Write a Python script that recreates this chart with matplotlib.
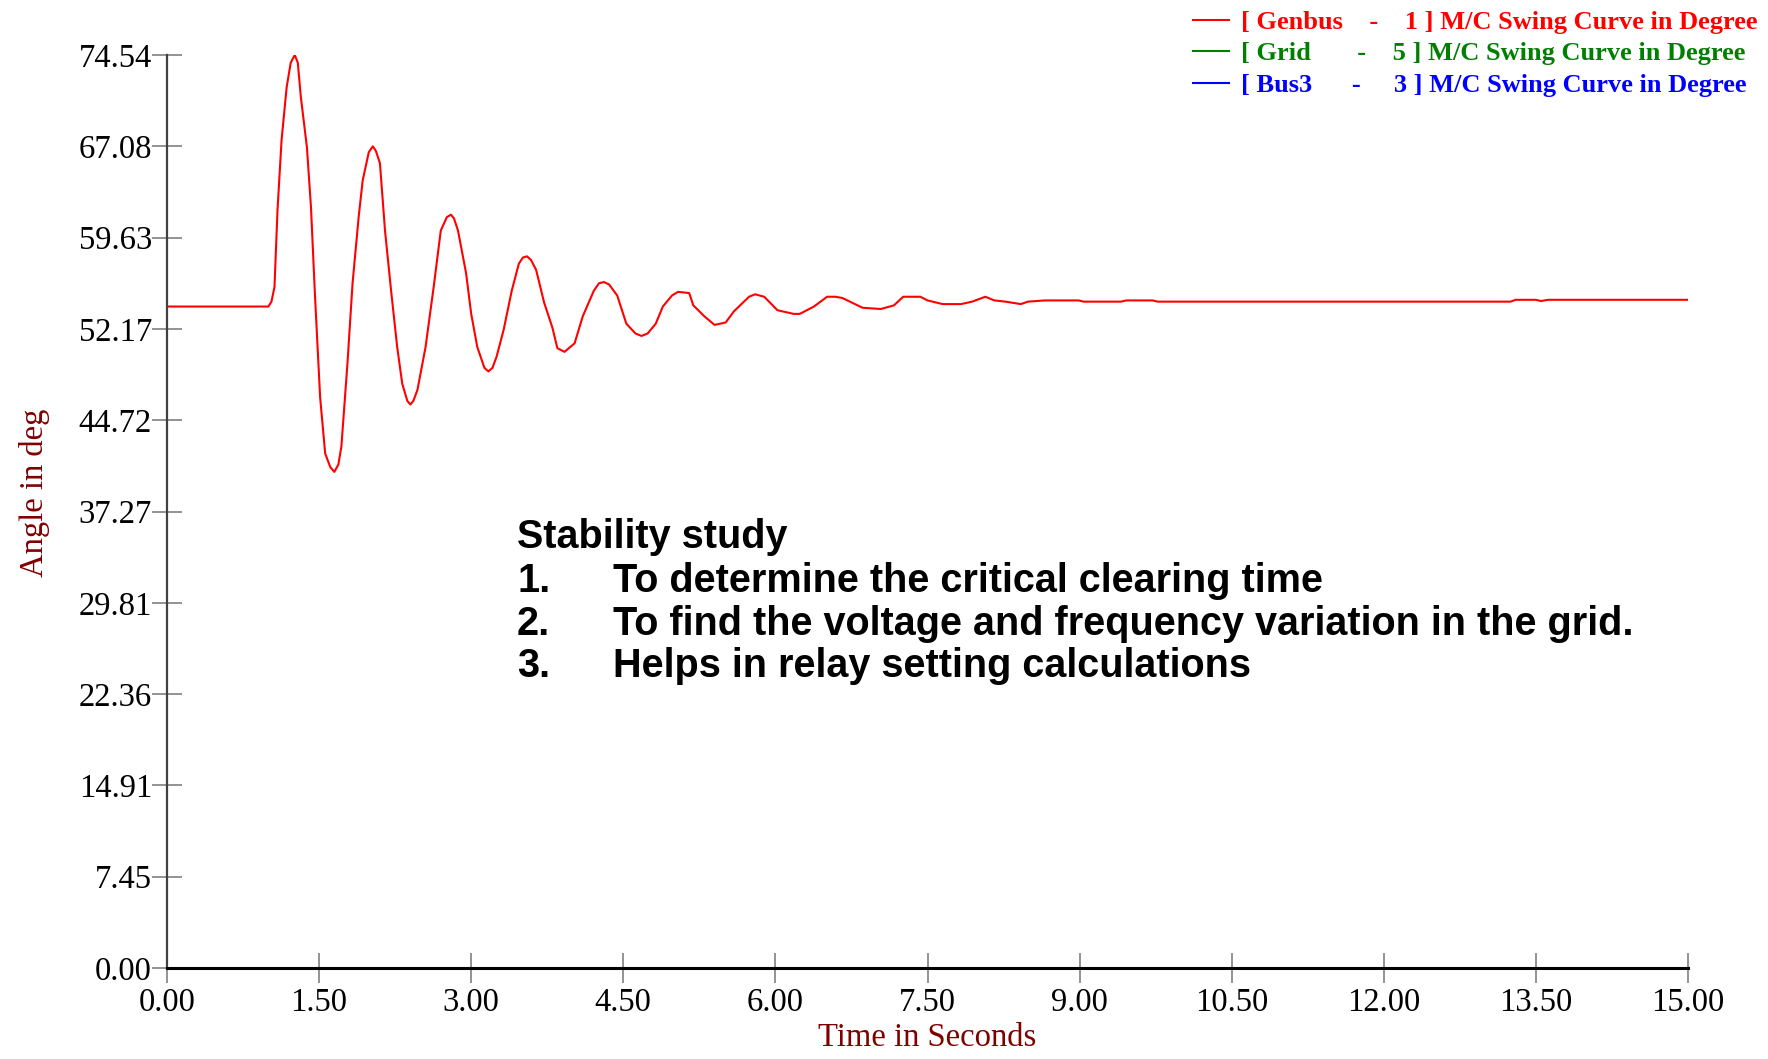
import matplotlib
matplotlib.use('Agg')
import numpy as np
from matplotlib import pyplot as plt
from matplotlib.lines import Line2D

# swing curve of Genbus machine
time_s = [0.00, 1.00, 1.03, 1.06, 1.09, 1.13, 1.18, 1.22, 1.26, 1.29, 1.32, 1.38, 1.42, 1.46,
          1.51, 1.56, 1.61, 1.65, 1.69, 1.72, 1.78, 1.83, 1.89, 1.93, 1.99, 2.03, 2.06, 2.10,
          2.15, 2.21, 2.27, 2.32, 2.37, 2.40, 2.43, 2.47, 2.55, 2.63, 2.70, 2.76, 2.80, 2.83,
          2.87, 2.95, 3.00, 3.06, 3.13, 3.17, 3.21, 3.25, 3.32, 3.40, 3.47, 3.51, 3.55, 3.59,
          3.64, 3.72, 3.80, 3.85, 3.92, 4.02, 4.10, 4.21, 4.26, 4.31, 4.36, 4.44, 4.53, 4.62,
          4.68, 4.74, 4.82, 4.89, 4.98, 5.04, 5.15, 5.19, 5.30, 5.40, 5.51, 5.59, 5.74, 5.80,
          5.89, 6.02, 6.18, 6.24, 6.38, 6.51, 6.59, 6.66, 6.86, 7.04, 7.17, 7.26, 7.34, 7.43,
          7.50, 7.65, 7.83, 7.94, 8.07, 8.16, 8.27, 8.42, 8.49, 8.66, 8.99, 9.04, 9.41, 9.46,
          9.72, 9.77, 13.25, 13.30, 13.50, 13.55, 13.62, 15.00]
genbus_deg = [54.0, 54.0, 54.4, 55.6, 61.9, 67.6, 71.9, 73.9, 74.54, 73.9, 71.1, 67.0, 62.1,
              54.8, 46.6, 42.0, 40.9, 40.5, 41.1, 42.6, 49.4, 55.9, 61.3, 64.3, 66.6, 67.08,
              66.7, 65.7, 60.2, 55.3, 50.7, 47.7, 46.3, 46.0, 46.3, 47.2, 50.7, 55.6, 60.2,
              61.3, 61.5, 61.2, 60.2, 56.7, 53.4, 50.7, 49.0, 48.7, 49.0, 49.9, 52.1, 55.3,
              57.5, 58.0, 58.1, 57.8, 57.0, 54.3, 52.3, 50.6, 50.3, 51.0, 53.2, 55.3, 55.9,
              56.0, 55.8, 54.9, 52.6, 51.8, 51.6, 51.8, 52.6, 54.0, 54.9, 55.2, 55.1, 54.1,
              53.2, 52.5, 52.7, 53.6, 54.8, 55.0, 54.8, 53.7, 53.4, 53.4, 54.0, 54.8, 54.8,
              54.7, 53.9, 53.8, 54.1, 54.8, 54.8, 54.8, 54.5, 54.2, 54.2, 54.4, 54.8, 54.5,
              54.4, 54.2, 54.4, 54.5, 54.5, 54.4, 54.4, 54.5, 54.5, 54.4, 54.4, 54.55, 54.55,
              54.45, 54.55, 54.55]

series_labels = ['[ Genbus    -    1 ] M/C Swing Curve in Degree',
                 '[ Grid       -    5 ] M/C Swing Curve in Degree',
                 '[ Bus3      -     3 ] M/C Swing Curve in Degree']
series_colors = ['#ff0000', '#008000', '#0000ff']

y_max = 74.5355
x_ticks = np.arange(0, 15.01, 1.5)
y_ticks = np.linspace(0, y_max, 11)

notes_title = 'Stability study'
notes_nums = ['1.', '2.', '3.']
notes = ['To determine the critical clearing time',
         'To find the voltage and frequency variation in the grid.',
         'Helps in relay setting calculations']

fig = plt.figure(figsize=(17.68, 10.59), dpi=100)
ax = fig.add_axes([167/1768, 91/1059, 1521/1768, 913/1059])

ax.plot(time_s, genbus_deg, color=series_colors[0], lw=1.5)

ax.set_xlim(0, 15)
ax.set_ylim(0, y_max)
ax.set_xticks(x_ticks)
ax.set_xticklabels(['%.2f' % v for v in x_ticks])
ax.set_yticks(y_ticks)
ax.set_yticklabels(['%.2f' % v for v in y_ticks])

serif = 'Liberation Serif'
for lab in ax.get_xticklabels() + ax.get_yticklabels():
    lab.set_fontfamily(serif)
    lab.set_fontsize(23.5)
ax.tick_params(axis='both', direction='inout', length=21.6, width=1.2, color='#808080')
ax.tick_params(axis='y', pad=0)
ax.tick_params(axis='x', pad=3)

for s in ['top', 'right']:
    ax.spines[s].set_visible(False)
ax.spines['left'].set_color('#404040')
ax.spines['left'].set_linewidth(1.6)
ax.spines['bottom'].set_color('#000000')
ax.spines['bottom'].set_linewidth(2.2)

ax.set_xlabel('Time in Seconds', fontfamily=serif, fontsize=23.5, color='#800000')
ax.xaxis.set_label_coords(0.5, -0.06)
ax.set_ylabel('Angle in deg', fontfamily=serif, fontsize=23.5, color='#800000')
ax.yaxis.set_label_coords(-0.077, 0.52)

handles = [Line2D([], [], color=c, lw=1.5) for c in series_colors]
leg = fig.legend(handles, series_labels, loc='upper right', bbox_to_anchor=(1.0, 1.0),
                 frameon=False, handlelength=1.35, handletextpad=0.45, labelspacing=0.3,
                 borderaxespad=0.0, prop={'family': serif, 'weight': 'bold', 'size': 19})
for txt, c in zip(leg.get_texts(), series_colors):
    txt.set_color(c)

sans = 'Liberation Sans'
fig.text(517/1768, 1 - 548/1059, notes_title, fontfamily=sans, fontweight='bold',
         fontsize=28.5, va='baseline', ha='left')
rows_y = [592, 635, 677]
for n, s, yy in zip(notes_nums, notes, rows_y):
    fig.text(517/1768, 1 - yy/1059, n, fontfamily=sans, fontweight='bold',
             fontsize=28.5, va='baseline', ha='left')
    fig.text(613/1768, 1 - yy/1059, s, fontfamily=sans, fontweight='bold',
             fontsize=28.5, va='baseline', ha='left')

fig.savefig('out.png', dpi=100)
